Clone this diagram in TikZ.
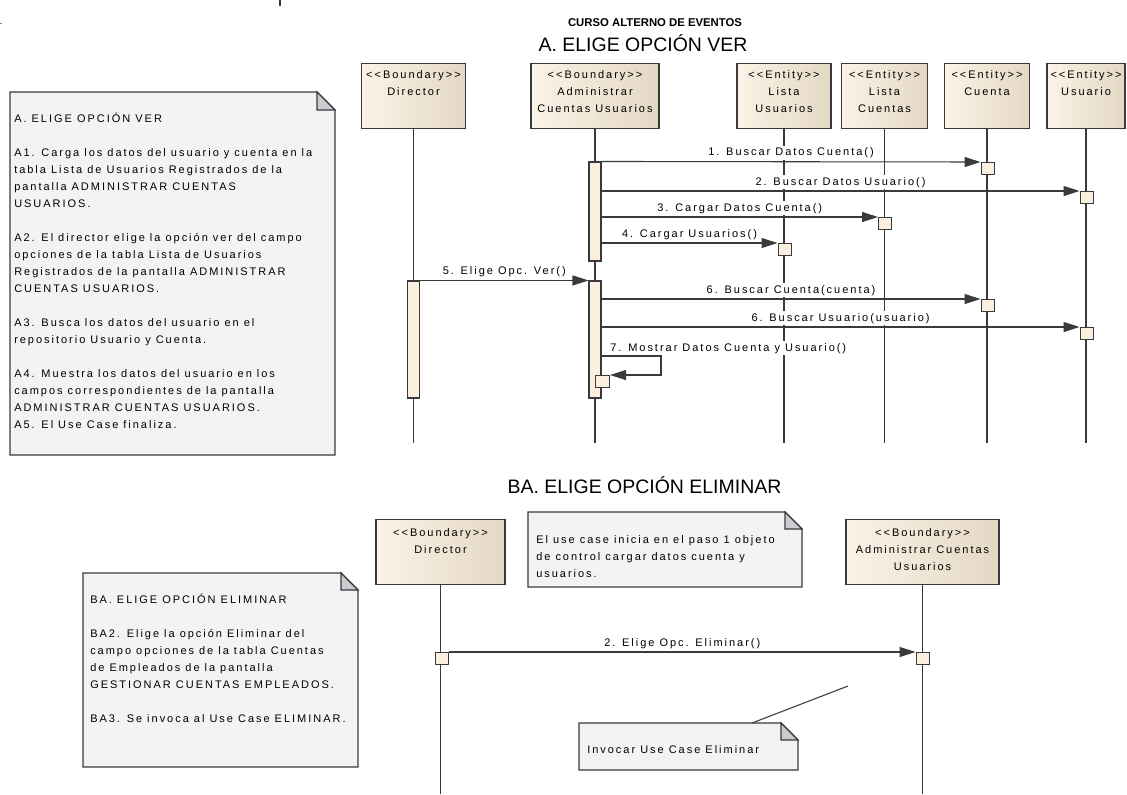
\documentclass[tikz,border=0pt]{standalone}
\usepackage{fontspec}
\setmainfont{Liberation Sans}
\newfontfamily\umlfont[LetterSpace=18,Ligatures=TeXOff]{Liberation Sans}
\usetikzlibrary{arrows.meta}

\definecolor{ink}{HTML}{3A3A3A}
\definecolor{boxL}{HTML}{FBF3E7}
\definecolor{boxR}{HTML}{E4D8C4}
\definecolor{actfill}{HTML}{FBF0E0}
\definecolor{notefill}{HTML}{F5F2F5}
\definecolor{foldfill}{HTML}{CDCBD1}

\pgfdeclarelayer{bg}
\pgfsetlayers{bg,main}

\tikzset{
  umltext/.style={font=\umlfont\fontsize{8.25pt}{12.75pt}\selectfont, inner sep=0pt, text=black},
  headbox/.style={draw=ink, line width=0.9pt, left color=boxL, right color=boxR,
                  minimum height=48.75pt, inner sep=0pt, anchor=north},
  headtext/.style={umltext, font=\umlfont\fontsize{8.25pt}{13pt}\selectfont, align=center, anchor=north},
  lifeline/.style={draw=ink, line width=0.8pt},
  actbar/.style={draw=ink, fill=actfill, line width=0.8pt, minimum width=9pt, inner sep=0pt},
  msgbox/.style={draw=ink, fill=actfill, line width=0.8pt, minimum width=9.75pt,
                 minimum height=9pt, inner sep=0pt, anchor=north west},
  msg/.style={draw=ink, line width=0.8pt, -{Triangle[length=12pt,width=7.5pt]}},
  msglabel/.style={umltext, midway, anchor=base, yshift=4.5pt, fill=white,
                   inner xsep=1pt, inner ysep=1.5pt},
  selflabel/.style={umltext, anchor=base west, xshift=5.25pt, yshift=3.75pt, fill=white,
                    inner xsep=1pt, inner ysep=1.5pt},
  notetext/.style={umltext, align=left, anchor=north west},
  noteline/.style={umltext, anchor=base west},
  notebody/.style={draw=ink, fill=notefill, line width=0.9pt},
  notefold/.style={draw=ink, fill=foldfill, line width=0.9pt},
  titletext/.style={font=\fontsize{14.6pt}{17pt}\selectfont, inner sep=0pt, anchor=base},
  titlebold/.style={font=\bfseries\fontsize{8.5pt}{10pt}\selectfont, inner sep=0pt, anchor=base},
}

% note with folded corner: x1 y1 x2 y2 fold
\newcommand\drawnote[5]{%
  \draw[notebody] (#1,#2) -- ({#3-#5},#2) -- (#3,{#2+#5}) -- (#3,#4) -- (#1,#4) -- cycle;
  \draw[notefold] ({#3-#5},#2) -- ({#3-#5},{#2+#5}) -- (#3,{#2+#5}) -- cycle;}

\begin{document}
\begin{tikzpicture}[x=0.75pt,y=-0.75pt]
\useasboundingbox (0,0) rectangle (1127,794);

% stray marks along the top edge
\draw[ink, line width=0.8pt] (280,0) -- (280,6);
\fill[gray] (0,22.5) rectangle (1.5,24);

% titles
\node[titlebold] (ttl) at (655,26) {CURSO ALTERNO DE EVENTOS};
\node[titletext] (ttlA) at (643,51.5) {A. ELIGE OPCIÓN VER};
\node[titletext] (ttlB) at (644.5,493) {BA. ELIGE OPCIÓN ELIMINAR};

% ---------- A. ELIGE OPCIÓN VER ----------
\drawnote{10}{92}{335}{455}{18}
% first baseline at y = 122 (strut height 11.9 px above it)
\node[notetext] (noteA) at (14,110.1) {\strut A. ELIGE OPCIÓN VER\\[12.75pt]
A1. Carga los datos del usuario y cuenta en la\\
tabla Lista de Usuarios Registrados de la\\
pantalla ADMINISTRAR CUENTAS\\
USUARIOS.\\[12.75pt]
A2. El director elige la opción ver del campo\\
opciones de la tabla Lista de Usuarios\\
Registrados de la pantalla ADMINISTRAR\\
CUENTAS USUARIOS.\\[12.75pt]
A3. Busca los datos del usuario en el\\
repositorio Usuario y Cuenta.\\[12.75pt]
A4. Muestra los datos del usuario en los\\
campos correspondientes de la pantalla\\
ADMINISTRAR CUENTAS USUARIOS.\\
A5. El Use Case finaliza.};

% lifeline heads
\node[headbox, minimum width=78pt]   (dir) at (413.5,63) {};
\node[headbox, minimum width=96pt]   (adm) at (595,63) {};
\node[headbox, minimum width=70.5pt] (lus) at (784,63) {};
\node[headbox, minimum width=64.5pt] (lcu) at (884.5,63) {};
\node[headbox, minimum width=63.75pt] (cta) at (987,63) {};
\node[headbox, minimum width=58.5pt] (usr) at (1086,63) {};
\node[headtext] (dirT) at (413.5,65.9) {\strut<<Boundary>>\\Director};
\node[headtext] (admT) at (595,65.9) {\strut<<Boundary>>\\Administrar\\Cuentas Usuarios};
\node[headtext] (lusT) at (784,65.9) {\strut<<Entity>>\\Lista\\Usuarios};
\node[headtext] (lcuT) at (884.5,65.9) {\strut<<Entity>>\\Lista\\Cuentas};
\node[headtext] (ctaT) at (987,65.9) {\strut<<Entity>>\\Cuenta};
\node[headtext] (usrT) at (1086,65.9) {\strut<<Entity>>\\Usuario};

% activation bars
\node[actbar, minimum height=74.25pt] (ab1) at (595,211.5) {};
\node[actbar, minimum height=87.75pt] (ab2) at (595,339.5) {};
\node[actbar, minimum height=87.75pt] (db)  at (413.5,339.5) {};

% execution boxes on the receiving lifelines
\node[msgbox] (m1)  at (980.5,162) {};
\node[msgbox] (m2)  at (1079.5,191) {};
\node[msgbox] (m3)  at (878,217) {};
\node[msgbox] (m4)  at (777.5,243) {};
\node[msgbox] (m6)  at (980.5,299) {};
\node[msgbox] (m6b) at (1079.5,327) {};
\node[msgbox, minimum width=10.5pt] (m7) at (595,375) {};

\coordinate (endA) at (0,443);
\begin{pgfonlayer}{bg}
  \foreach \h in {dir,adm,lus,lcu,cta,usr}
    \draw[lifeline] (\h.south) -- (\h.south |- endA);
\end{pgfonlayer}

% messages
\draw[msg] (ab1.north east) -- node[msglabel] {1. Buscar Datos Cuenta()} (m1.north west);
\draw[msg] (m2.north west -| ab1.east) -- node[msglabel] {2. Buscar Datos Usuario()} (m2.north west);
\draw[msg] (m3.north west -| ab1.east) -- node[msglabel] {3. Cargar Datos Cuenta()} (m3.north west);
\draw[msg] (m4.north west -| ab1.east) -- node[msglabel] {4. Cargar Usuarios()} (m4.north west);
\draw[msg] (db.north east) -- node[msglabel] {5. Elige Opc. Ver()} (ab2.north west);
\draw[msg] (m6.north west -| ab2.east) -- node[msglabel] {6. Buscar Cuenta(cuenta)} (m6.north west);
\draw[msg] (m6b.north west -| ab2.east) -- node[msglabel] {6. Buscar Usuario(usuario)} (m6b.north west);
\coordinate (loop7) at (661,356);
\draw[msg] (loop7 -| ab2.east) node[selflabel] {7. Mostrar Datos Cuenta y Usuario()}
  -- (loop7) |- (m7.north east);

% ---------- BA. ELIGE OPCIÓN ELIMINAR ----------
\drawnote{83}{573}{358}{767}{17}
\node[notetext] (noteBA) at (90,591.1) {\strut BA. ELIGE OPCIÓN ELIMINAR\\[12.75pt]
BA2. Elige la opción Eliminar del\\
campo opciones de la tabla Cuentas\\
de Empleados de la pantalla\\
GESTIONAR CUENTAS EMPLEADOS.\\[12.75pt]
BA3. Se invoca al Use Case ELIMINAR.};

\drawnote{528}{512}{802}{587}{17}
\node[notetext] (noteIni) at (536,531.1) {\strut El use case inicia en el paso 1 objeto\\
de control cargar datos cuenta y\\
usuarios.};

\node[headbox, minimum width=96.75pt]  (dirB) at (440.5,519) {};
\node[headbox, minimum width=114.75pt] (admB) at (922.5,519) {};
\node[headtext] (dirBT) at (440.5,523.9) {\strut<<Boundary>>\\Director};
\node[headtext] (admBT) at (922.5,523.9) {\strut<<Boundary>>\\Administrar Cuentas\\Usuarios};

\node[msgbox] (mD) at (435,652) {};
\node[msgbox] (mA) at (915.5,652) {};

\coordinate (endB) at (0,794);
\begin{pgfonlayer}{bg}
  \draw[lifeline] (dirB.south) -- (dirB.south |- endB);
  \draw[lifeline] (admB.south) -- (admB.south |- endB);
\end{pgfonlayer}

\draw[msg] (mD.north east) -- node[msglabel] {2. Elige Opc. Eliminar()} (mA.north west);

\drawnote{579}{723}{798}{770}{17}
\node[noteline] (noteInv) at (587,753) {Invocar Use Case Eliminar};
\coordinate (invTop) at (752,723);
\coordinate (invEnd) at (848,686);
\draw[ink, line width=0.8pt] (invTop) -- (invEnd);

\end{tikzpicture}
\end{document}
